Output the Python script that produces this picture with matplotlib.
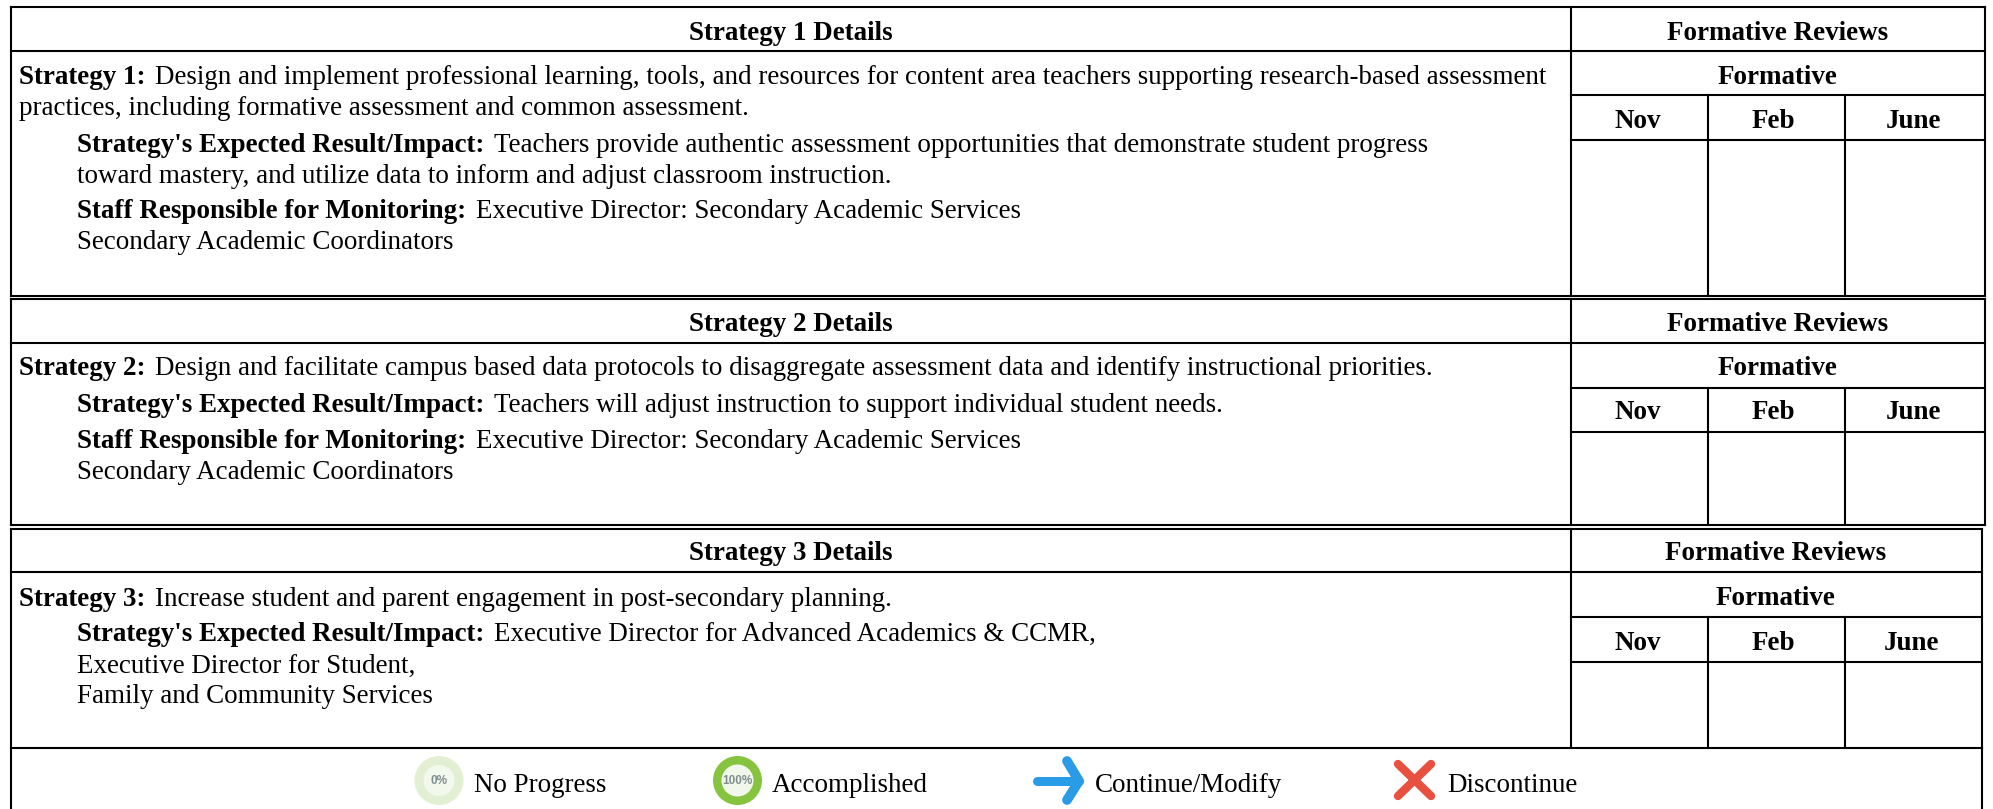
import matplotlib
matplotlib.use("Agg")
import matplotlib.pyplot as plt
from matplotlib.patches import Circle

W, H = 1993, 809
FONT = "Liberation Serif"
FS = 19.45
LW = 1.5

# ---- content ----
detail_titles = ["Strategy 1 Details", "Strategy 2 Details", "Strategy 3 Details"]
review_title = "Formative Reviews"
sub_title = "Formative"
months = ["Nov", "Feb", "June"]

strategy_1 = [("Strategy 1:", "Design and implement professional learning, tools, and resources for content area teachers supporting research-based assessment"),
              ("", "practices, including formative assessment and common assessment."),
              ("Strategy's Expected Result/Impact:", "Teachers provide authentic assessment opportunities that demonstrate student progress"),
              ("", "toward mastery, and utilize data to inform and adjust classroom instruction."),
              ("Staff Responsible for Monitoring:", "Executive Director: Secondary Academic Services"),
              ("", "Secondary Academic Coordinators")]
strategy_2 = [("Strategy 2:", "Design and facilitate campus based data protocols to disaggregate assessment data and identify instructional priorities."),
              ("Strategy's Expected Result/Impact:", "Teachers will adjust instruction to support individual student needs."),
              ("Staff Responsible for Monitoring:", "Executive Director: Secondary Academic Services"),
              ("", "Secondary Academic Coordinators")]
strategy_3 = [("Strategy 3:", "Increase student and parent engagement in post-secondary planning."),
              ("Strategy's Expected Result/Impact:", "Executive Director for Advanced Academics & CCMR,"),
              ("", "Executive Director for Student,"),
              ("", "Family and Community Services")]
legend_labels = ["No Progress", "Accomplished", "Continue/Modify", "Discontinue"]
icon_labels = ["0%", "100%"]

# ---- layout (pixels) ----
left = 11.5
col_x = [1571, 1708, 1845.3]
right_edges = [1984.7, 1984.7, 1982.3]
block_rows = [[6.5, 51, 95, 140, 295.8], [299.2, 343, 388, 432, 525.2], [528.8, 572, 617, 662, 748]]
title_base = [40, 331, 560]
form_base = [84, 375, 605]
month_base = [128, 419, 650]
review_cx = [1777.5, 1777.5, 1775.5]
month_cx = [[1638, 1773, 1914], [1638, 1773, 1914], [1638, 1773, 1912]]
text_blocks = [strategy_1, strategy_2, strategy_3]
text_base = [[84, 115, 151.5, 183, 217.5, 249], [375, 412, 448, 479], [606, 641, 673, 703]]
text_x = [[19, 19, 77, 77, 77, 77], [19, 77, 77, 77], [19, 77, 77, 77]]

fig = plt.figure(figsize=(W / 100, H / 100), dpi=100, facecolor="white")
ax = fig.add_axes([0, 0, 1, 1])
ax.set_xlim(0, W)
ax.set_ylim(H, 0)
ax.axis("off")
renderer = fig.canvas.get_renderer()


def line(xs, ys, lw=LW, color="black", **kw):
    ax.plot(xs, ys, color=color, lw=lw, solid_capstyle="projecting", **kw)


def label(x, y, s, bold=False, ha="left", size=FS, color="black", family=FONT):
    return ax.text(x, y, s, family=family, fontsize=size, ha=ha, va="baseline",
                   fontweight="bold" if bold else "normal", color=color)


for i in range(3):
    r = right_edges[i]
    rows = block_rows[i]
    line([left, r], [rows[0], rows[0]])
    line([left, r], [rows[1], rows[1]])
    line([col_x[0], r], [rows[2], rows[2]])
    line([col_x[0], r], [rows[3], rows[3]])
    line([left, r], [rows[4], rows[4]])
    line([left, left], [rows[0], rows[4]])
    line([r, r], [rows[0], rows[4]])
    line([col_x[0], col_x[0]], [rows[0], rows[4]])
    for cx in col_x[1:]:
        line([cx, cx], [rows[2], rows[4]])
    label((left + col_x[0]) / 2, title_base[i], detail_titles[i], bold=True, ha="center")
    label(review_cx[i], title_base[i], review_title, bold=True, ha="center")
    label(review_cx[i], form_base[i], sub_title, bold=True, ha="center")
    for cx, m in zip(month_cx[i], months):
        label(cx, month_base[i], m, bold=True, ha="center")
    for x, y, (b, t) in zip(text_x[i], text_base[i], text_blocks[i]):
        if b:
            tb = label(x, y, b, bold=True)
            ext = tb.get_window_extent(renderer)
            label(ext.x1 + 10, y, t)
        else:
            label(x, y, t)

# legend box
line([left, left], [748, H + 5])
line([1982.3, 1982.3], [748, H + 5])

# icons
cy = 780.5
ax.add_patch(Circle((439, cy), 24.5, fc="#e3efd3", ec="none"))
ax.add_patch(Circle((439, cy), 15.5, fc="#f3f8ec", ec="none"))
label(439, cy + 3.5, icon_labels[0], bold=True, ha="center", size=8.5, color="#7f8f8f", family="Liberation Sans")
ax.add_patch(Circle((737.5, cy), 24.5, fc="#86c440", ec="none"))
ax.add_patch(Circle((737.5, cy), 16, fc="#f2f7ec", ec="none"))
label(737.5, cy + 3.5, icon_labels[1], bold=True, ha="center", size=8.5, color="#7f8f8f", family="Liberation Sans")

blue = "#2a9be6"
ax.plot([1037, 1079], [781, 781], color=blue, lw=6.5, solid_capstyle="round")
ax.plot([1067, 1079, 1067], [761, 781, 800], color=blue, lw=7, solid_capstyle="round", solid_joinstyle="round")
red = "#e8503f"
ax.plot([1398, 1431], [764, 796], color=red, lw=6, solid_capstyle="round")
ax.plot([1398, 1431], [796, 764], color=red, lw=6, solid_capstyle="round")

leg_x = [474, 771.5, 1095, 1447]
for x, s in zip(leg_x, legend_labels):
    label(x, 792, s)

fig.savefig("out.png", dpi=100, facecolor="white")
